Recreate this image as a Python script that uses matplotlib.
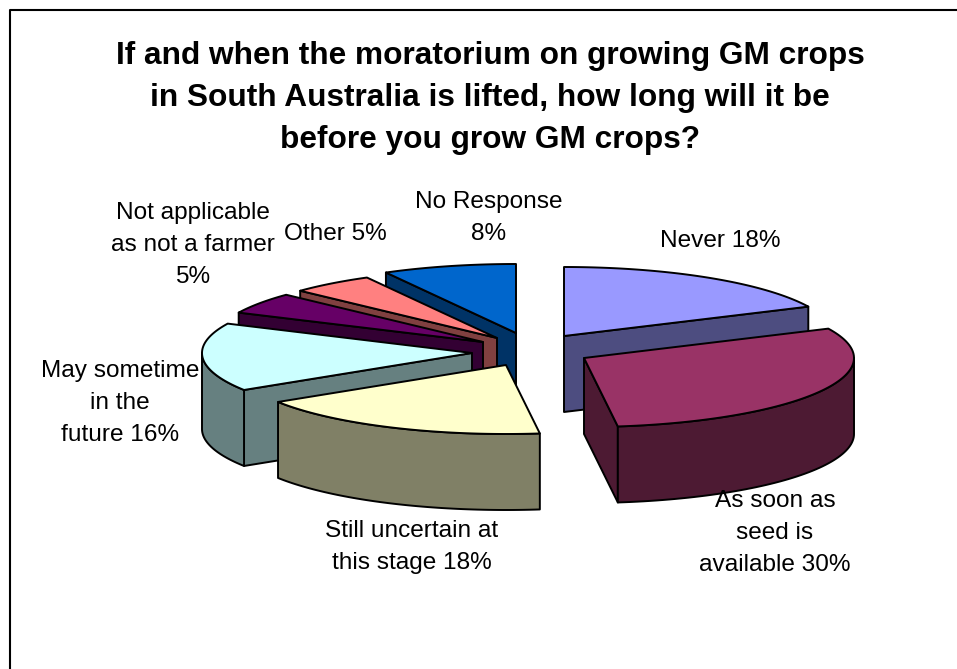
import numpy as np
import matplotlib
matplotlib.use("Agg")
import matplotlib.pyplot as plt
from matplotlib.patches import Polygon

plt.rcParams['font.family'] = ['Liberation Sans', 'DejaVu Sans']

# Survey answers, clockwise from twelve o'clock
labels = ["Never 18%", "As soon as\nseed is\navailable 30%", "Still uncertain at\nthis stage 18%",
          "May sometime\nin the\nfuture 16%", "Not applicable\nas not a farmer\n5%", "Other 5%",
          "No Response\n8%"]
values = [18, 30, 18, 16, 5, 5, 8]

title_lines = ["If and when the moratorium on growing GM crops",
               "in South Australia is lifted, how long will it be",
               "before you grow GM crops?"]

# Slice colours
top_colors = ["#9999FF", "#993366", "#FFFFCC", "#CCFFFF", "#660066", "#FF8080", "#0066CC"]
side_colors = ["#4D4D80", "#4D1A33", "#808066", "#668080", "#330033", "#804040", "#003366"]

# Layout in pixels: where each exploded slice has its tip, and where its label sits
tip_x = [564, 584, 506, 472, 483, 497, 516]
tip_y = [336, 358, 365, 353, 342, 338, 333]
label_x = [720, 775, 412, 120, 193, 335, 489]
label_y = [241, 501, 531, 371, 213, 234, 202]
radius_x, radius_y = 270, 69
depth = 76
line_gap = 32
edge = dict(edgecolor="black", linewidth=1.4, joinstyle="round")

fig = plt.figure(figsize=(9.57, 6.69), dpi=100)
ax = fig.add_axes([0, 0, 1, 1])
ax.set_xlim(0, 957)
ax.set_ylim(669, 0)
ax.axis("off")

# Outer frame, the right and bottom sides are cut off in the source
ax.plot([10, 10, 957], [669, 10, 10], color="black", lw=1.5)

# Slice angles come from the values
shares = np.array(values) / sum(values) * 360
ends = np.cumsum(shares)
starts = ends - shares


def project(i, angle, drop=0):
    a = np.radians(angle)
    return tip_x[i] + radius_x * np.sin(a), tip_y[i] - radius_y * np.cos(a) + drop


def wall_faces_front(angle, mid):
    # A radial wall shows when the slice body lies above its edge line
    a, m = np.radians(angle), np.radians(mid)
    if abs(np.sin(a)) < 1e-6:
        return False
    return -np.cos(m) < np.sin(m) * (-np.cos(a) / np.sin(a))


# Back slices first, front slices paint over them
mids = (starts + ends) / 2
order = np.argsort(-np.cos(np.radians(mids)))

for i in order:
    for angle in (starts[i], ends[i]):
        if wall_faces_front(angle, mids[i]):
            x, y = project(i, angle)
            pts = [(tip_x[i], tip_y[i]), (x, y), (x, y + depth), (tip_x[i], tip_y[i] + depth)]
            ax.add_patch(Polygon(pts, closed=True, facecolor=side_colors[i], **edge))

    # Outer rim, only the part on the near half of the ellipse
    low, high = max(starts[i], 90), min(ends[i], 270)
    if high > low:
        arc = np.linspace(low, high, 60)
        upper = [project(i, t) for t in arc]
        lower = [project(i, t, depth) for t in arc[::-1]]
        ax.add_patch(Polygon(upper + lower, closed=True, facecolor=side_colors[i], **edge))

    arc = np.linspace(starts[i], ends[i], 80)
    pts = [(tip_x[i], tip_y[i])] + [project(i, t) for t in arc]
    ax.add_patch(Polygon(pts, closed=True, facecolor=top_colors[i], **edge))

# Title and labels, one text per line so the line gap matches
for n, line in enumerate(title_lines):
    ax.text(490, 56 + 42 * n, line, ha="center", va="center", fontsize=22.8, fontweight="bold")

for i, label in enumerate(labels):
    for n, line in enumerate(label.split("\n")):
        ax.text(label_x[i], label_y[i] + line_gap * n, line, ha="center", va="center",
                fontsize=17.6, color="black")

fig.savefig("out.png", dpi=100)
